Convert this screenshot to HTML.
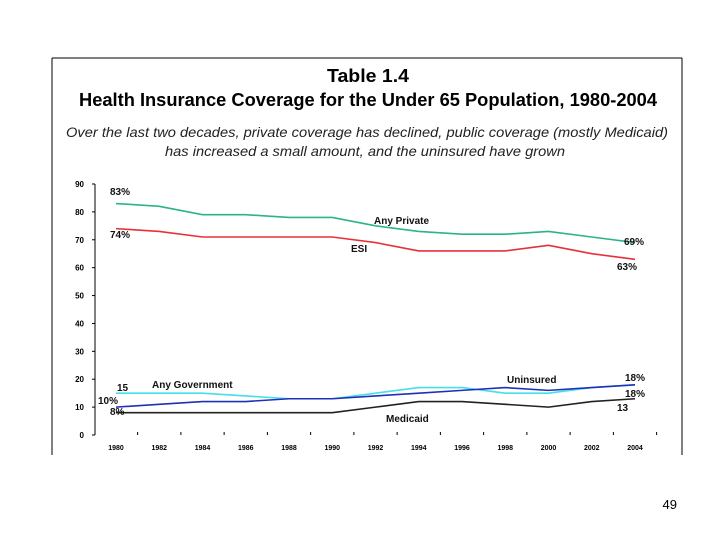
<!DOCTYPE html>
<html><head><meta charset="utf-8"><style>
body{margin:0;background:#fff;}
svg text{font-family:"Liberation Sans",Arial,sans-serif;}
</style></head><body>
<svg width="720" height="540" viewBox="0 0 720 540">
<g id="frame">
<line x1="52" y1="58" x2="682" y2="58" stroke="#000" stroke-width="1"/>
<line x1="52" y1="58" x2="52" y2="455" stroke="#000" stroke-width="1"/>
<line x1="682" y1="58" x2="682" y2="455" stroke="#000" stroke-width="1"/>
</g>
<text x="368" y="82" text-anchor="middle" font-size="18" font-weight="bold" textLength="82" lengthAdjust="spacingAndGlyphs">Table 1.4</text>
<text x="368" y="106" text-anchor="middle" font-size="18" font-weight="bold" textLength="578" lengthAdjust="spacingAndGlyphs">Health Insurance Coverage for the Under 65 Population, 1980-2004</text>
<text x="367" y="137" text-anchor="middle" font-size="14" font-style="italic" fill="#222" textLength="602" lengthAdjust="spacingAndGlyphs">Over the last two decades, private coverage has declined, public coverage (mostly Medicaid)</text>
<text x="365" y="156" text-anchor="middle" font-size="14" font-style="italic" fill="#222" textLength="400" lengthAdjust="spacingAndGlyphs">has increased a small amount, and the uninsured have grown</text>
<g id="axes"></g>
<g id="series"></g>
<g id="labels" font-size="10" font-weight="bold" fill="#111">
<text x="110" y="195">83%</text>
<text x="110" y="238">74%</text>
<text x="374" y="224">Any Private</text>
<text x="351" y="252">ESI</text>
<text x="624" y="245">69%</text>
<text x="617" y="270">63%</text>
<text x="117" y="391">15</text>
<text x="152" y="388">Any Government</text>
<text x="98" y="404">10%</text>
<text x="110" y="415">8%</text>
<text x="507" y="383">Uninsured</text>
<text x="386" y="422">Medicaid</text>
<text x="625" y="381">18%</text>
<text x="625" y="397">18%</text>
<text x="617" y="411">13</text>
</g>
<text x="677" y="509" text-anchor="end" font-size="13">49</text>
</svg>
<script>
const years=[1980,1982,1984,1986,1988,1990,1992,1994,1996,1998,2000,2002,2004];
const anyPrivate=[83,82,79,79,78,78,75,73,72,72,73,71,69];
const esi=[74,73,71,71,71,71,69,66,66,66,68,65,63];
const anyGov=[15,15,15,14,13,13,15,17,17,15,15,17,18];
const uninsured=[10,11,12,12,13,13,14,15,16,17,16,17,18];
const medicaid=[8,8,8,8,8,8,10,12,12,11,10,12,13];
const yTicks=[0,10,20,30,40,50,60,70,80,90];
const NS='http://www.w3.org/2000/svg';
const X=y=>116+(y-1980)*(635-116)/24;
const Y=v=>435-v*(435-184)/90;
function mk(t,a,p){const e=document.createElementNS(NS,t);for(const k in a)e.setAttribute(k,a[k]);p.appendChild(e);return e;}
const ax=document.getElementById('axes');
const yl=mk('line',{x1:95,y1:Y(90),x2:95,y2:Y(0),stroke:'#000'},ax);


yTicks.forEach(v=>{
 const t=mk('text',{x:84,y:Y(v)+3,'text-anchor':'end','font-size':8,'font-weight':'bold'},ax);
 t.textContent=v;
 
 
 mk('line',{x1:92,y1:Y(v),x2:95,y2:Y(v),stroke:'#000'},ax);
});
years.forEach(y=>{
 const t=mk('text',{x:X(y),y:450,'text-anchor':'middle','font-size':7,'font-weight':'bold'},ax);
 t.textContent=y;
 
 
 mk('line',{x1:X(y+1),y1:Y(0)-3,x2:X(y+1),y2:Y(0),stroke:'#000'},ax);
});
const sg=document.getElementById('series');
[[anyPrivate,'#2bb38c','line-any-private'],[esi,'#e8303a','line-esi'],[anyGov,'#44e0e8','line-any-government'],[medicaid,'#222','line-medicaid'],[uninsured,'#2030b8','line-uninsured']].forEach(([d,c,n])=>{
 const p=mk('polyline',{points:d.map((v,i)=>X(years[i])+','+Y(v)).join(' '),fill:'none',stroke:c,'stroke-width':1.6},sg);
 
 
});
</script>
</body></html>
